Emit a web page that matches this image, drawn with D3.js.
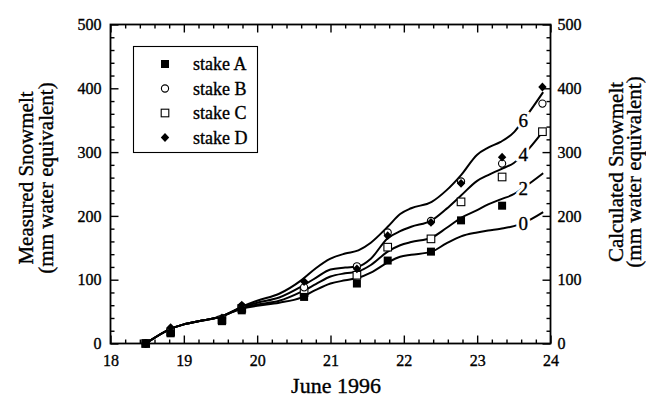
<!DOCTYPE html>
<html>
<head>
<meta charset="utf-8">
<script src="https://cdn.jsdelivr.net/npm/d3@7"></script>
<style>
  html, body { margin: 0; padding: 0; background: #fff; }
  svg { display: block; }
</style>
</head>
<body>
<svg id="chart" width="646" height="398"></svg>
<script>
// Survey dates of the stake readings (day of June 1996)
const sampleDays = [18.48, 18.82, 19.52, 19.79, 20.64, 21.36, 21.78, 22.37, 22.78, 23.34, 23.89];
// Measured cumulative snowmelt at each stake (mm water equivalent)
const stakeA = [0, 16, 35, 52, 73, 94, 130, 144, 193, 216, null];
const stakeB = [0, 21, 39, 58, 88, 121, 174, 192, 254, 282, 376];
const stakeC = [0, 18, 37, 55, 80, 107, 151, 164, 222, 261, 332];
const stakeD = [0, 25, 40, 60, 97, 117, 169, 190, 251, 292, 402];
const stakeNames = ["stake A", "stake B", "stake C", "stake D"];

// Calculated snowmelt curves, one per model parameter value (0, 2, 4, 6)
const curveDays = [18.48, 18.82, 19.0, 19.25, 19.5, 19.8, 20.0, 20.3, 20.6, 20.8, 21.0, 21.2, 21.38,
                   21.55, 21.78, 21.95, 22.1, 22.38, 22.58, 22.78, 23.0, 23.15, 23.32, 23.5, 23.63, 23.9];
const curve0 = [0, 23, 30, 36, 42, 55, 59, 64, 72, 84, 94, 99, 103,
                111, 127, 136, 139, 144, 157, 168, 174, 177, 180, 184, 189, 206];
const curve2 = [0, 23, 30, 36, 42, 56, 61, 67, 81, 93, 105, 110, 113,
                123, 144, 154, 159, 166, 181, 197, 209, 218, 226, 234, 244, 267];
const curve4 = [0, 23, 30, 36, 42, 57, 64, 72, 89, 103, 116, 119, 121,
                133, 165, 176, 183, 193, 211, 232, 255, 264, 273, 283, 296, 333];
const curve6 = [0, 23, 30, 36, 42, 58, 67, 78, 99, 118, 133, 141, 146,
                158, 183, 203, 212, 222, 240, 264, 296, 307, 316, 331, 350, 394];
const curveLabels = ["0", "2", "4", "6"];
const curveLabelDay = 23.63;

// Axis ticks
const xTickValues = [18, 19, 20, 21, 22, 23, 24];
const yTickValues = [0, 100, 200, 300, 400, 500];

const FONT = "'Liberation Serif', 'Times New Roman', serif";
const svg = d3.select("#chart").attr("font-family", FONT);

const x = d3.scaleLinear().domain([18, 24]).range([110.5, 550.5]);
const y = d3.scaleLinear().domain([0, 500]).range([343.5, 24.5]);

const xMinor = d3.range(18, 24.001, 0.2).filter(v => Math.abs(v - Math.round(v)) > 1e-6);
const yMinor = d3.range(0, 500.001, 20).filter(v => v % 100 !== 0);

// slightly heavier glyphs, like a printed figure
const inkText = sel => sel.attr("stroke", "#000").attr("stroke-width", 0.35);

// ---- axes ----
function addAxis(axis, tx, ty) {
  const g = svg.append("g").attr("transform", `translate(${tx},${ty})`).call(axis);
  g.attr("font-family", FONT).attr("font-size", 16);
  g.select(".domain").remove();
  g.selectAll(".tick line").attr("stroke", "#000").attr("stroke-width", 1.4);
  g.selectAll(".tick text").attr("fill", "#000").call(inkText);
  return g;
}

addAxis(d3.axisBottom(x).tickValues(xTickValues).tickFormat(d3.format("d")).tickSize(-8).tickPadding(11), 0, y(0));
addAxis(d3.axisBottom(x).tickValues(xMinor).tickFormat("").tickSize(-4), 0, y(0));
addAxis(d3.axisTop(x).tickValues(xTickValues).tickFormat("").tickSize(-8), 0, y(500));
addAxis(d3.axisTop(x).tickValues(xMinor).tickFormat("").tickSize(-4), 0, y(500));
addAxis(d3.axisLeft(y).tickValues(yTickValues).tickFormat(d3.format("d")).tickSize(-8).tickPadding(9), x(18), 0);
addAxis(d3.axisLeft(y).tickValues(yMinor).tickFormat("").tickSize(-4), x(18), 0);
addAxis(d3.axisRight(y).tickValues(yTickValues).tickFormat(d3.format("d")).tickSize(-8).tickPadding(7), x(24), 0);
addAxis(d3.axisRight(y).tickValues(yMinor).tickFormat("").tickSize(-4), x(24), 0);

// plot frame
svg.append("rect")
  .attr("x", x(18)).attr("y", y(500))
  .attr("width", x(24) - x(18)).attr("height", y(0) - y(500))
  .attr("fill", "none").attr("stroke", "#000").attr("stroke-width", 1.8);

// ---- calculated curves ----
const curveSeries = [curve0, curve2, curve4, curve6];
const line = d3.line()
  .x((d, i) => x(curveDays[i]))
  .y(d => y(d))
  .curve(d3.curveMonotoneX);

svg.append("g").selectAll("path")
  .data(curveSeries)
  .join("path")
  .attr("d", d => line(d))
  .attr("fill", "none")
  .attr("stroke", "#000")
  .attr("stroke-width", 2);

// curve labels sit on the curves, knocked out with a white halo
const interp = (vals, day) => {
  const i = d3.bisectLeft(curveDays, day);
  if (curveDays[i] === day) return vals[i];
  const t = (day - curveDays[i - 1]) / (curveDays[i] - curveDays[i - 1]);
  return vals[i - 1] + t * (vals[i] - vals[i - 1]);
};
const labelG = svg.append("g");
curveSeries.forEach((vals, i) => {
  const lx = x(curveLabelDay), ly = y(interp(vals, curveLabelDay));
  labelG.append("text")
    .attr("x", lx).attr("y", ly).attr("dy", "0.36em")
    .attr("text-anchor", "middle").attr("font-size", 19)
    .attr("fill", "#fff").attr("stroke", "#fff").attr("stroke-width", 6)
    .text(curveLabels[i]);
  labelG.append("text")
    .attr("x", lx).attr("y", ly).attr("dy", "0.36em")
    .attr("text-anchor", "middle").attr("font-size", 19)
    .attr("fill", "#000").call(inkText)
    .text(curveLabels[i]);
});

// ---- measured stake points ----
const markers = [
  g => g.append("rect").attr("x", -4).attr("y", -4).attr("width", 8).attr("height", 8).attr("fill", "#000"),
  g => g.append("circle").attr("r", 3.6).attr("fill", "#fff").attr("stroke", "#000").attr("stroke-width", 1.1),
  g => g.append("rect").attr("x", -3.8).attr("y", -3.8).attr("width", 7.6).attr("height", 7.6)
        .attr("fill", "#fff").attr("stroke", "#000").attr("stroke-width", 1.1),
  g => g.append("path").attr("d", "M0,-4.4L4.2,0L0,4.4L-4.2,0Z").attr("fill", "#000")
];
const stakeSeries = [stakeA, stakeB, stakeC, stakeD];
// draw open markers first so filled ones stay visible where they coincide
[2, 1, 0, 3].forEach(s => {
  stakeSeries[s].forEach((v, i) => {
    if (v == null) return;
    const g = svg.append("g").attr("transform", `translate(${x(sampleDays[i])},${y(v)})`);
    markers[s](g);
  });
});

// ---- legend ----
const legend = svg.append("g");
legend.append("rect")
  .attr("x", 133.5).attr("y", 46.5).attr("width", 124).attr("height", 106)
  .attr("fill", "#fff").attr("stroke", "#000").attr("stroke-width", 1.1);
stakeNames.forEach((name, i) => {
  const cy = 64 + i * 24.5;
  const g = legend.append("g").attr("transform", `translate(165,${cy})`);
  markers[i](g);
  legend.append("text")
    .attr("x", 193).attr("y", cy).attr("dy", "0.35em")
    .attr("font-size", 18).attr("fill", "#000").call(inkText)
    .text(name);
});

// ---- axis titles ----
const titles = [
  { text: "Measured Snowmelt", x: 33, y: 178 },
  { text: "(mm water equivalent)", x: 53, y: 178 },
  { text: "Calculated Snowmelt", x: 623, y: 172 },
  { text: "(mm water equivalent)", x: 641, y: 172 }
];
titles.forEach(t => {
  svg.append("text")
    .attr("transform", `translate(${t.x},${t.y}) rotate(-90)`)
    .attr("text-anchor", "middle").attr("font-size", 21).attr("fill", "#000").call(inkText)
    .text(t.text);
});
svg.append("text")
  .attr("x", 336).attr("y", 393)
  .attr("text-anchor", "middle").attr("font-size", 22).attr("fill", "#000").call(inkText)
  .text("June 1996");
</script>
</body>
</html>
